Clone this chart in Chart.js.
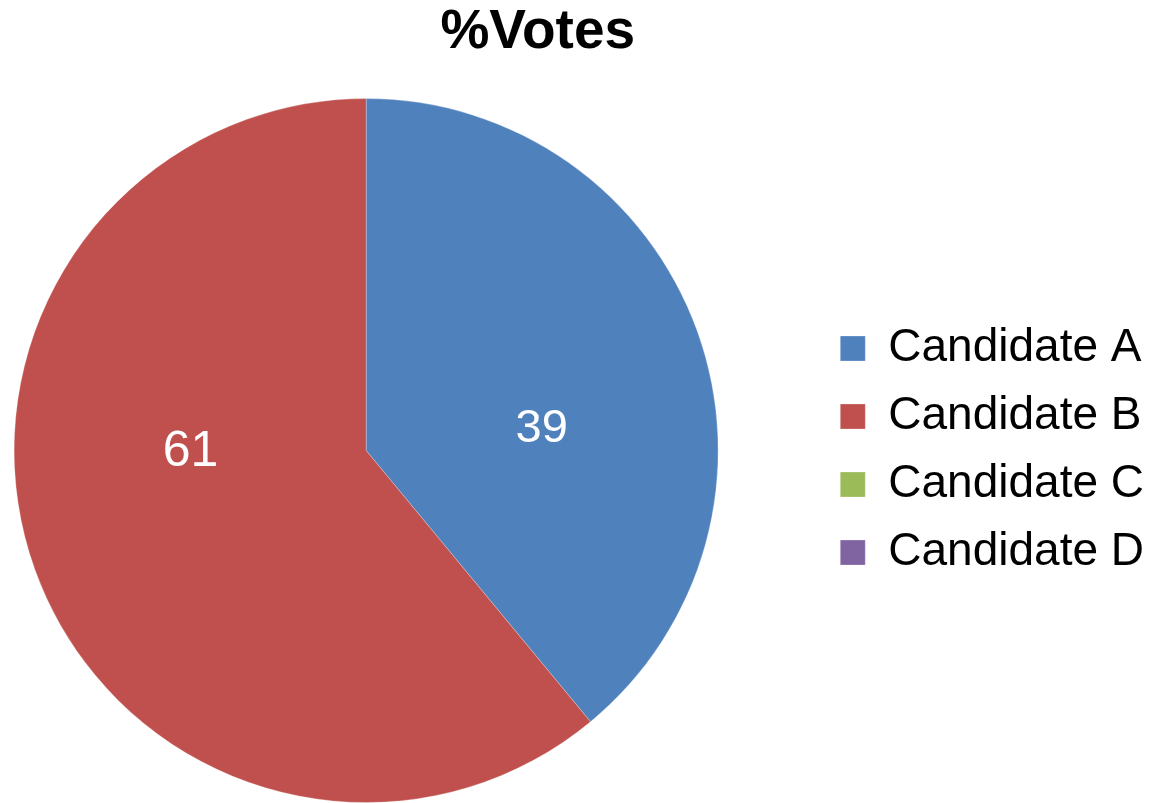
<!DOCTYPE html>
<html>
<head>
<meta charset="utf-8">
<title>%Votes</title>
<script src="https://cdn.jsdelivr.net/npm/chart.js@4.4.0/dist/chart.umd.min.js"></script>
<style>
  html, body { margin: 0; padding: 0; background: #fff; }
  #wrap { width: 1154px; height: 803px; position: relative; }
</style>
</head>
<body>
<div id="wrap"><canvas id="votesChart"></canvas></div>
<script>
// ── data ──
const chartTitle = '%Votes';
const candidates = ['Candidate A', 'Candidate B', 'Candidate C', 'Candidate D'];
const votes = [39, 61, 0, 0];

// ── styles ──
const sliceColors = ['#4F81BD', '#C0504D', '#9BBB59', '#8064A2'];
const labelSizes = [47, 50, 40, 40];
const FONT = "'Liberation Sans', Arial, sans-serif";

// title drawn over the whole page, Excel-style (slightly left of centre)
const titlePlugin = {
  id: 'pageTitle',
  afterDraw(chart) {
    const { ctx } = chart;
    ctx.save();
    ctx.font = `bold 55px ${FONT}`;
    ctx.fillStyle = '#000';
    ctx.textAlign = 'center';
    ctx.textBaseline = 'middle';
    ctx.fillText(chartTitle, chart.width * 0.466, 33);
    ctx.restore();
  }
};

// leave a gap between the pie and the legend
const legendGap = {
  id: 'legendGap',
  afterLayout(chart, args, opts) {
    const a = chart.chartArea;
    a.right -= opts.gap;
    a.width -= opts.gap;
  }
};

// value labels inside the slices
const sliceLabels = {
  id: 'sliceLabels',
  afterDatasetsDraw(chart) {
    const { ctx } = chart;
    const meta = chart.getDatasetMeta(0);
    ctx.save();
    ctx.fillStyle = '#fff';
    ctx.textAlign = 'center';
    ctx.textBaseline = 'middle';
    meta.data.forEach((arc, i) => {
      if (!votes[i]) return;
      const p = arc.getProps(['x', 'y', 'startAngle', 'endAngle', 'outerRadius'], true);
      const mid = (p.startAngle + p.endAngle) / 2 + 0.28;
      const r = p.outerRadius * 0.5;
      ctx.font = `${labelSizes[i]}px ${FONT}`;
      ctx.fillText(String(votes[i]), p.x + Math.cos(mid) * r, p.y + Math.sin(mid) * r - 10);
    });
    ctx.restore();
  }
};

new Chart(document.getElementById('votesChart'), {
  type: 'pie',
  data: {
    labels: candidates,
    datasets: [{
      data: votes,
      backgroundColor: sliceColors,
      borderColor: 'rgba(255,255,255,0.25)',
      borderWidth: 1,
    }]
  },
  options: {
    responsive: true,
    maintainAspectRatio: false,
    animation: false,
    layout: { padding: { left: 0, top: 98, right: 0, bottom: 0 } },
    plugins: {
      title: { display: false },
      tooltip: { enabled: false },
      legendGap: { gap: 86 },
      legend: {
        position: 'right',
        labels: {
          color: '#000',
          boxWidth: 25,
          boxHeight: 25,
          padding: 22,
          font: { family: FONT, size: 46 },
        }
      }
    }
  },
  plugins: [titlePlugin, legendGap, sliceLabels]
});
</script>
</body>
</html>
